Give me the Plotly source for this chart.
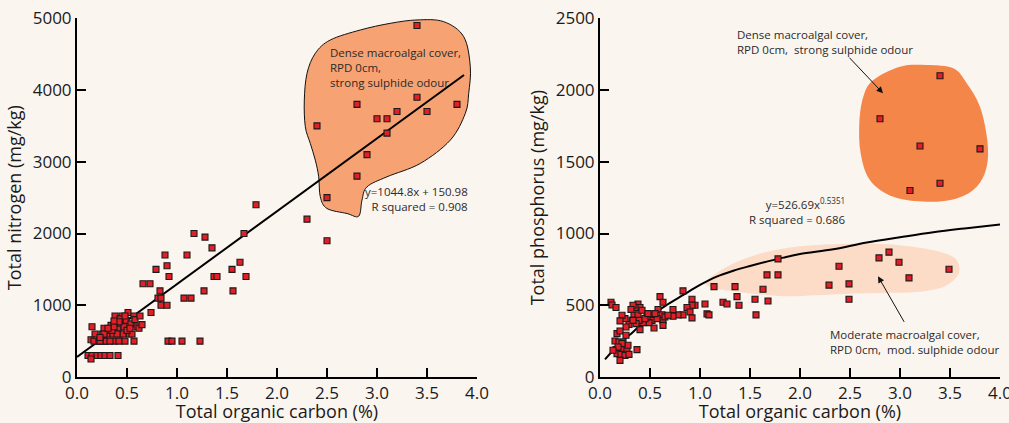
import plotly.graph_objects as go

# ---------------- data ----------------
# Left panel: Total organic carbon (%) vs Total nitrogen (mg/kg)
tn_x = [3.4, 2.8, 3.8, 3.4, 3.2, 3.5, 3.0, 3.1, 2.4, 3.1, 2.9, 2.8, 2.5, 2.3, 2.5,
        1.79, 1.17, 1.28, 1.67, 1.35, 0.88, 1.1, 1.63, 0.79, 0.9, 1.55, 0.92, 1.37,
        1.4, 1.69, 0.66, 0.73, 0.83, 1.27, 1.56, 0.81, 0.84, 1.07, 1.14, 0.84, 0.9,
        0.74, 0.91, 0.95, 1.05, 1.23, 0.41,
        0.11, 0.15, 0.2, 0.24, 0.28, 0.33, 0.14,
        0.15, 0.18, 0.14, 0.17, 0.22, 0.25, 0.27, 0.27, 0.3, 0.29, 0.32, 0.34, 0.36,
        0.37, 0.38, 0.39, 0.41, 0.43, 0.42, 0.44, 0.45, 0.47, 0.48, 0.49, 0.51, 0.52,
        0.54, 0.55, 0.57, 0.57, 0.58, 0.6, 0.62, 0.63, 0.65, 0.46, 0.43, 0.33, 0.4,
        0.23, 0.27, 0.23, 0.35, 0.37, 0.5, 0.53, 0.48, 0.42, 0.31, 0.37]
tn_y = [4900, 3800, 3800, 3900, 3700, 3700, 3600, 3600, 3500, 3400, 3100, 2800, 2500, 2200, 1900,
        2400, 2000, 1950, 2000, 1800, 1700, 1700, 1600, 1500, 1550, 1500, 1400, 1400,
        1400, 1400, 1300, 1300, 1200, 1200, 1200, 1100, 1100, 1100, 1100, 1000, 1000,
        900, 500, 500, 500, 500, 300,
        300, 300, 300, 300, 300, 300, 250,
        700, 600, 520, 500, 500, 600, 680, 500, 600, 500, 650, 720, 600,
        500, 850, 750, 680, 600, 500, 750, 850, 700, 500, 790, 900, 600,
        740, 600, 850, 500, 800, 700, 680, 850, 730, 600, 810, 500, 600,
        500, 600, 550, 650, 700, 650, 680, 850, 770, 680, 780]

# Left fit line (as drawn)
tn_fit_x = [0.0, 3.87]
tn_fit_y = [280, 4210]

# Right panel: Total organic carbon (%) vs Total phosphorus (mg/kg)
tp_x = [3.4, 2.8, 3.2, 3.8, 3.4, 3.1,
        1.78, 1.78, 2.89, 2.79, 2.99, 2.39, 3.49, 3.09, 2.49, 2.29, 2.49,
        1.67, 1.63, 1.68, 1.55, 1.56, 1.37, 1.35, 1.39, 1.14, 1.23, 1.27, 1.05, 1.07,
        1.09, 0.83, 0.92, 0.95, 0.92, 0.87, 0.9, 0.92, 0.83, 0.78, 0.73, 0.73,
        0.6, 0.63, 0.58, 0.62, 0.63, 0.65, 0.63, 0.53, 0.52, 0.54, 0.49, 0.47, 0.43,
        0.4, 0.38, 0.4, 0.35, 0.33, 0.31, 0.34, 0.38, 0.39, 0.36, 0.32, 0.29, 0.26,
        0.25, 0.22, 0.2, 0.11, 0.12, 0.16, 0.17, 0.2, 0.15, 0.19, 0.23, 0.16, 0.22,
        0.27, 0.17, 0.21, 0.25, 0.29, 0.2, 0.37, 0.28, 0.26, 0.22, 0.18, 0.13,
        0.33, 0.42, 0.45, 0.48, 0.57, 0.55, 0.68]
tp_y = [2100, 1800, 1610, 1590, 1350, 1300,
        823, 712, 870, 830, 800, 772, 751, 691, 649, 640, 542,
        712, 612, 530, 542, 433, 560, 630, 500, 630, 521, 509, 509, 440,
        433, 600, 542, 500, 500, 484, 453, 412, 433, 433, 470, 423,
        560, 521, 470, 433, 395, 419, 360, 433, 395, 342, 379, 419, 379,
        330, 509, 484, 484, 500, 470, 430, 433, 395, 372, 395, 367, 349,
        407, 430, 391, 521, 502, 484, 302, 321, 251, 244, 244, 191, 191,
        191, 163, 158, 151, 158, 116, 191, 221, 291, 233, 209, 186,
        395, 465, 407, 442, 407, 442, 430]

# Right fit curve (as drawn)
tp_fit_x = [0.05, 0.2, 0.333, 0.5, 0.667, 0.833, 1.0, 1.167, 1.333, 1.5, 1.667, 1.833,
            2.0, 2.333, 2.667, 3.0, 3.333, 3.667, 4.03]
tp_fit_y = [123, 235, 316, 421, 502, 572, 642, 700, 741, 774, 804, 832,
            857, 890, 937, 974, 1009, 1037, 1065]

# Highlight region outlines (data coordinates)
blob_left_x = [3.667, 3.867, 3.933, 3.917, 3.883, 3.733, 3.433, 3.1, 2.9, 2.85, 2.817,
               2.7, 2.5, 2.433, 2.417, 2.383, 2.333, 2.283, 2.273, 2.3, 2.383, 2.533,
               2.833, 3.133, 3.4]
blob_left_y = [4953, 4744, 4325, 3953, 3674, 3302, 2977, 2791, 2651, 2465, 2242,
               2279, 2349, 2512, 2791, 3023, 3256, 3488, 3860, 4232, 4512, 4698,
               4837, 4930, 4977]
blob_dense_x = [2.733, 3.0, 3.267, 3.533, 3.667, 3.8, 3.873, 3.867, 3.767, 3.567,
                3.267, 2.933, 2.7, 2.607, 2.593, 2.633]
blob_dense_y = [2070, 2163, 2174, 2151, 2047, 1884, 1651, 1465, 1326, 1244,
                1221, 1256, 1372, 1558, 1767, 1953]
blob_mod_x = [1.067, 1.333, 1.667, 2.0, 2.333, 2.667, 3.0, 3.333, 3.533, 3.593, 3.567,
              3.433, 3.167, 2.833, 2.5, 2.167, 1.833, 1.533, 1.267, 1.1]
blob_mod_y = [674, 791, 872, 912, 926, 930, 919, 884, 837, 767, 698,
              628, 593, 586, 581, 570, 563, 581, 605, 628]

# ---------------- styling ----------------
BG = "#FBF5F0"
FONT = "Open Sans"
MARKER = dict(symbol="square", size=6, color="#E41E26",
              line=dict(color="#1a1a1a", width=1.1))


def smooth_path(xs, ys):
    n = len(xs)
    pts = list(zip(xs, ys))
    d = f"M {pts[0][0]},{pts[0][1]} "
    for i in range(n):
        p0 = pts[(i - 1) % n]
        p1 = pts[i]
        p2 = pts[(i + 1) % n]
        p3 = pts[(i + 2) % n]
        c1 = (p1[0] + (p2[0] - p0[0]) / 6, p1[1] + (p2[1] - p0[1]) / 6)
        c2 = (p2[0] - (p3[0] - p1[0]) / 6, p2[1] - (p3[1] - p1[1]) / 6)
        d += f"C {c1[0]},{c1[1]} {c2[0]},{c2[1]} {p2[0]},{p2[1]} "
    return d + "Z"


fig = go.Figure()

fig.add_trace(go.Scatter(x=tn_fit_x, y=tn_fit_y, mode="lines",
                         line=dict(color="#000000", width=2), xaxis="x", yaxis="y",
                         showlegend=False, hoverinfo="skip"))
fig.add_trace(go.Scatter(x=tn_x, y=tn_y, mode="markers", marker=MARKER,
                         xaxis="x", yaxis="y", showlegend=False))
fig.add_trace(go.Scatter(x=tp_fit_x, y=tp_fit_y, mode="lines", line_shape="spline",
                         line=dict(color="#000000", width=2), xaxis="x2", yaxis="y2",
                         showlegend=False, hoverinfo="skip"))
fig.add_trace(go.Scatter(x=tp_x, y=tp_y, mode="markers", marker=MARKER,
                         xaxis="x2", yaxis="y2", showlegend=False))

shapes = [
    dict(type="path", path=smooth_path(blob_left_x, blob_left_y), xref="x", yref="y",
         fillcolor="#F6A272", line=dict(color="#111111", width=1), layer="below"),
    dict(type="path", path=smooth_path(blob_dense_x, blob_dense_y), xref="x2", yref="y2",
         fillcolor="#F4864A", line=dict(width=0), layer="below"),
    dict(type="path", path=smooth_path(blob_mod_x, blob_mod_y), xref="x2", yref="y2",
         fillcolor="#FCDCC6", line=dict(width=0), layer="below"),
]

TXT = dict(family=FONT, size=11.5, color="#2b2b2b")
annotations = [
    dict(x=2.51, y=4660, xref="x", yref="y", xanchor="left", yanchor="top", align="left",
         text="Dense macroalgal cover,<br>RPD 0cm,<br>strong sulphide odour",
         showarrow=False, font=TXT),
    dict(x=3.93, y=2720, xref="x", yref="y", xanchor="right", yanchor="top", align="right",
         text="y=1044.8x + 150.98<br>R squared = 0.908", showarrow=False, font=TXT),
    dict(x=1.35, y=2450, xref="x2", yref="y2", xanchor="left", yanchor="top", align="left",
         text="Dense macroalgal cover,<br>RPD 0cm,  strong sulphide odour",
         showarrow=False, font=TXT),
    dict(x=2.48, y=1280, xref="x2", yref="y2", xanchor="right", yanchor="top", align="right",
         text="y=526.69x<sup>0.5351</sup><br>R squared = 0.686", showarrow=False, font=TXT),
    dict(x=2.28, y=365, xref="x2", yref="y2", xanchor="left", yanchor="top", align="left",
         text="Moderate macroalgal cover,<br>RPD 0cm,  mod. sulphide odour",
         showarrow=False, font=TXT),
    dict(x=2.83, y=1978, xref="x2", yref="y2", ax=2.48, ay=2236, axref="x2", ayref="y2",
         text="", showarrow=True, arrowhead=2, arrowsize=1.3, arrowwidth=1,
         arrowcolor="#111111"),
    dict(x=2.78, y=702, xref="x2", yref="y2", ax=3.05, ay=374, axref="x2", ayref="y2",
         text="", showarrow=True, arrowhead=2, arrowsize=1.3, arrowwidth=1,
         arrowcolor="#111111"),
]

ax_common = dict(showline=True, linecolor="#000000", linewidth=2, ticks="inside",
                 ticklen=9, tickwidth=2, tickcolor="#000000", showgrid=False,
                 zeroline=False, tickfont=dict(family=FONT, size=17, color="#1a1a1a"),
                 fixedrange=True, automargin=False, ticklabeloverflow="allow")

y_dom = [1 - 377 / 423, 1 - 18.3 / 423]

fig.update_layout(
    width=1009, height=423, margin=dict(l=0, r=0, t=0, b=0, autoexpand=False),
    paper_bgcolor=BG, plot_bgcolor=BG, showlegend=False,
    shapes=shapes, annotations=annotations,
    xaxis=dict(domain=[77 / 1009, 477 / 1009], range=[0, 4], dtick=0.5, tickformat=".1f",
               title=dict(text="Total organic carbon (%)", standoff=5,
                          font=dict(family=FONT, size=18, color="#1a1a1a")),
               anchor="y", **ax_common),
    yaxis=dict(domain=y_dom, range=[0, 5000], dtick=1000,
               title=dict(text="Total nitrogen (mg/kg)", standoff=6,
                          font=dict(family=FONT, size=18, color="#1a1a1a")),
               anchor="x", **ax_common),
    xaxis2=dict(domain=[600 / 1009, 1000 / 1009], range=[0, 4], dtick=0.5, tickformat=".1f",
                title=dict(text="Total organic carbon (%)", standoff=5,
                           font=dict(family=FONT, size=18, color="#1a1a1a")),
                anchor="y2", **ax_common),
    yaxis2=dict(domain=y_dom, range=[0, 2500], dtick=500,
                title=dict(text="Total phosphorus (mg/kg)", standoff=6,
                           font=dict(family=FONT, size=18, color="#1a1a1a")),
                anchor="x2", **ax_common),
)

fig.write_html("out.html")
